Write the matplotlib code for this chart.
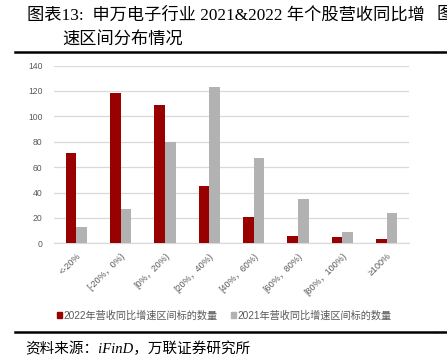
import matplotlib
matplotlib.use("Agg")
import matplotlib.pyplot as plt
from matplotlib.lines import Line2D
import numpy as np

plt.rcParams['font.family'] = ['Liberation Sans', 'Noto Sans CJK SC', 'DejaVu Sans']

categories = ["<-20%", "[-20%，0%)", "[0%，20%)", "[20%，40%)",
              "[40%，60%)", "[60%，80%)", "[80%，100%)", "≥100%"]
series_2022 = [71, 118, 109, 45, 21, 6, 5, 3]
series_2021 = [13, 27, 80, 123, 67, 35, 9, 24]
label_2022 = "2022年营收同比增速区间标的数量"
label_2021 = "2021年营收同比增速区间标的数量"
yticks = [0, 20, 40, 60, 80, 100, 120, 140]

RED = "#990000"
GRAY = "#b2b2b2"
TXT = "#595959"

W, H = 447, 362
fig = plt.figure(figsize=(W / 100, H / 100), dpi=100)

ax = fig.add_axes([54.3 / W, 1 - 243.3 / H, (408.7 - 54.3) / W, (243.3 - 65.5) / H])
x = np.arange(len(categories))
bw = 0.24
ax.bar(x - bw / 2, series_2022, width=bw, color=RED, label=label_2022, zorder=3)
ax.bar(x + bw / 2, series_2021, width=bw, color=GRAY, label=label_2021, zorder=3)
ax.set_xlim(-0.5, len(categories) - 0.5)
ax.set_ylim(0, 140)
ax.set_yticks(yticks)
ax.set_yticklabels([str(v) for v in yticks], fontsize=6.2, color=TXT)
ax.yaxis.grid(True, color="#d9d9d9", linewidth=0.9, zorder=0)
ax.set_axisbelow(True)
for s in ["top", "right", "left"]:
    ax.spines[s].set_visible(False)
ax.spines["bottom"].set_color("#d9d9d9")
ax.spines["bottom"].set_linewidth(0.9)
ax.tick_params(axis="y", length=0, pad=8.5)
ax.tick_params(axis="x", length=0, pad=6)
ax.set_xticks(x)
ax.set_xticklabels(categories, rotation=45, ha="right", va="top",
                   rotation_mode="anchor", fontsize=6.5, color=TXT)

# legend
leg = fig.legend(handles=[
    plt.Rectangle((0, 0), 1, 1, color=RED),
    plt.Rectangle((0, 0), 1, 1, color=GRAY)],
    labels=[label_2022, label_2021], loc="center", ncol=2,
    bbox_to_anchor=(224 / W, 1 - 315.5 / H), frameon=False,
    fontsize=7.3, handlelength=0.55, handleheight=0.55, handletextpad=0.1,
    columnspacing=1.3, labelcolor=TXT, borderpad=0, borderaxespad=0)

# title
tfam = ['Liberation Serif', 'Noto Sans CJK SC']
fig.text(27 / W, 1 - 15 / H, "图表13:  申万电子行业 2021&2022 年个股营收同比增",
         fontsize=12.4, family=tfam, ha="left", va="center")
fig.text(62 / W, 1 - 41 / H, "速区间分布情况",
         fontsize=12.4, family=tfam, ha="left", va="center")
fig.text(437 / W, 1 - 15 / H, "图", fontsize=12.4, family=tfam, ha="left", va="center")

# rules
for yy in (51.7, 331.7):
    fig.add_artist(Line2D([15 / W, 435 / W], [1 - yy / H] * 2, color="black", lw=1.8,
                          transform=fig.transFigure))
    fig.add_artist(Line2D([436.5 / W, 1], [1 - yy / H] * 2, color="black", lw=1.8,
                          transform=fig.transFigure))

# source
fig.text(25 / W, 1 - 349 / H, "资料来源：iFinD，万联证券研究所",
         fontsize=10.5, family=tfam, style="italic", ha="left", va="center")

fig.savefig("out.png", dpi=100)
